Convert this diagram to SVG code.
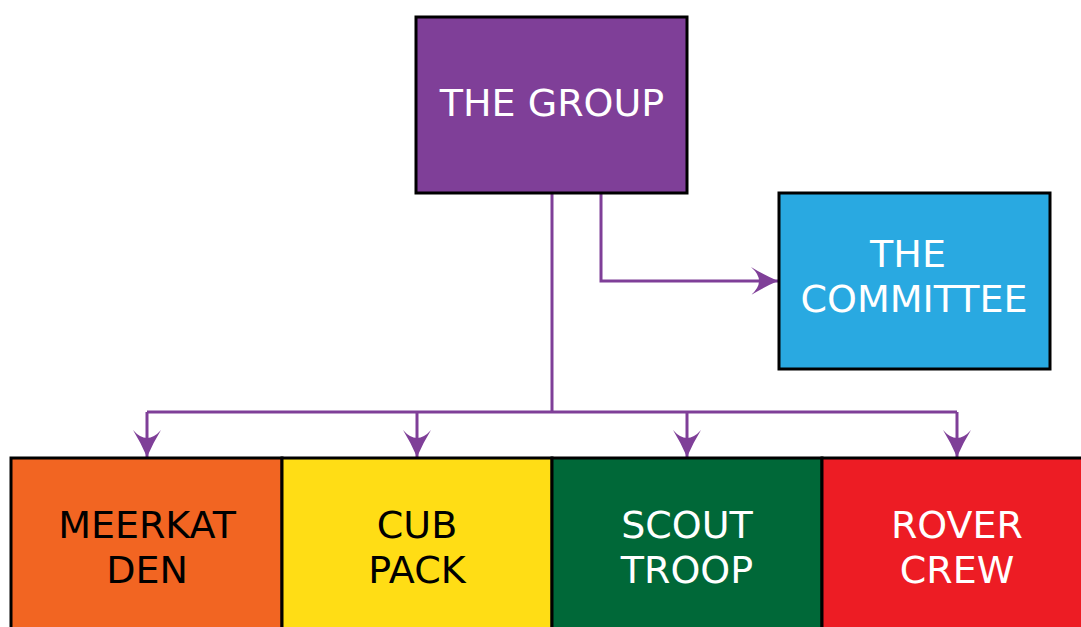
<svg xmlns="http://www.w3.org/2000/svg" width="1081" height="627" viewBox="0 0 1081 627">
<style>
.box{stroke:#000;stroke-width:3}
.lbl{font-family:"DejaVu Sans",Verdana,sans-serif;font-size:38px;text-anchor:middle}
.w{fill:#fff}
.k{fill:#000}
.con{fill:none;stroke:#7F3F98;stroke-width:3}
</style>
<defs>
<marker id="ah" markerUnits="userSpaceOnUse" orient="auto" markerWidth="40" markerHeight="40" viewBox="-30 -20 40 40" refX="0" refY="0">
<path d="M0,0 Q-14,-6 -27,-14 Q-19,-7 -19,0 Q-19,7 -27,14 Q-14,6 0,0 Z" fill="#7F3F98"/>
</marker>
</defs>
<rect width="1081" height="627" fill="#fff"/>
<g id="connectors">
<path class="con" d="M552,193 V412"/>
<path class="con" d="M147,412 H957"/>
<path class="con" d="M147,412 V457" marker-end="url(#ah)"/>
<path class="con" d="M417,412 V457" marker-end="url(#ah)"/>
<path class="con" d="M687,412 V457" marker-end="url(#ah)"/>
<path class="con" d="M957,412 V457" marker-end="url(#ah)"/>
<path class="con" d="M601,193 V281 H778" marker-end="url(#ah)"/>
</g>
<g id="group">
<rect class="box" x="416" y="17" width="271" height="176" fill="#7F3F98"/>
<text class="lbl w" x="552" y="116">THE GROUP</text>
</g>
<g id="committee">
<rect class="box" x="779" y="193" width="271" height="176" fill="#29A9E1"/>
<text class="lbl w" x="908" y="267">THE</text>
<text class="lbl w" x="914" y="312">COMMITTEE</text>
</g>
<g id="meerkat">
<rect class="box" x="11" y="458" width="271" height="180" fill="#F26522"/>
<text class="lbl k" x="147" y="538">MEERKAT</text>
<text class="lbl k" x="147" y="583">DEN</text>
</g>
<g id="cub">
<rect class="box" x="282" y="458" width="270" height="180" fill="#FFDD15"/>
<text class="lbl k" x="417" y="538">CUB</text>
<text class="lbl k" x="417" y="583">PACK</text>
</g>
<g id="scout">
<rect class="box" x="552" y="458" width="270" height="180" fill="#006838"/>
<text class="lbl w" x="687" y="538">SCOUT</text>
<text class="lbl w" x="687" y="583">TROOP</text>
</g>
<g id="rover">
<rect class="box" x="822" y="458" width="270" height="180" fill="#ED1C24"/>
<text class="lbl w" x="957" y="538">ROVER</text>
<text class="lbl w" x="957" y="583">CREW</text>
</g>
</svg>
